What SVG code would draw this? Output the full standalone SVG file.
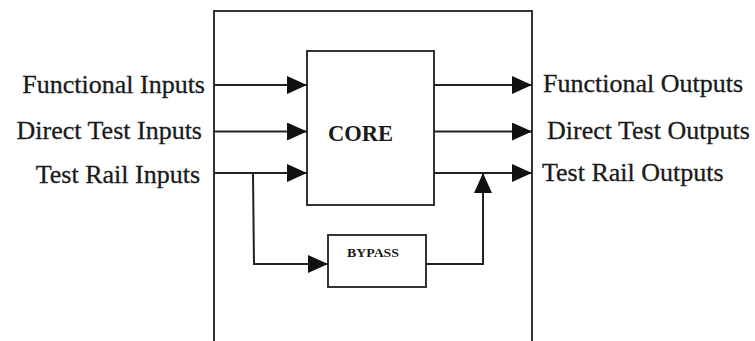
<svg xmlns="http://www.w3.org/2000/svg" width="755" height="341" viewBox="0 0 755 341">
<defs>
<marker id="ah" markerWidth="20" markerHeight="18" refX="20" refY="9" orient="auto" markerUnits="userSpaceOnUse">
<path d="M0,0 L20,9 L0,18 Z" fill="#111"/>
</marker>
<style>
.box{fill:#fff;stroke:#333;stroke-width:2}
.ln{fill:none;stroke:#222;stroke-width:2}
.lbl{font-family:"Liberation Serif","Times New Roman",serif;font-size:26px;fill:#1a1a1a;stroke:#1a1a1a;stroke-width:0.3}
.bold{font-family:"Liberation Serif","Times New Roman",serif;font-weight:bold;fill:#1a1a1a}
</style>
</defs>
<rect width="755" height="341" fill="#fff"/>
<g id="outer"><rect class="box" x="214" y="11" width="318" height="340"/></g>
<g id="core"><rect class="box" x="307" y="51" width="127" height="154"/>
<text class="bold" x="360.5" y="141" text-anchor="middle" font-size="22.5">CORE</text></g>
<g id="bypass"><rect class="box" x="328" y="235" width="98" height="52"/>
<text class="bold" x="347" y="257" font-size="12" textLength="52" lengthAdjust="spacingAndGlyphs">BYPASS</text></g>
<g id="labels">
<text class="lbl" x="205" y="93" text-anchor="end">Functional Inputs</text>
<text class="lbl" x="202" y="139" text-anchor="end">Direct Test Inputs</text>
<text class="lbl" x="200" y="183" text-anchor="end">Test Rail Inputs</text>
<text class="lbl" x="543" y="92">Functional Outputs</text>
<text class="lbl" x="547" y="139">Direct Test Outputs</text>
<text class="lbl" x="542" y="181">Test Rail Outputs</text>
</g>
<g id="connectors">
<line class="ln" x1="214" y1="85" x2="307" y2="85" marker-end="url(#ah)"/>
<line class="ln" x1="214" y1="131.5" x2="307" y2="131.5" marker-end="url(#ah)"/>
<line class="ln" x1="214" y1="173" x2="307" y2="173" marker-end="url(#ah)"/>
<line class="ln" x1="434" y1="85" x2="532" y2="85" marker-end="url(#ah)"/>
<line class="ln" x1="434" y1="131.5" x2="532" y2="131.5" marker-end="url(#ah)"/>
<line class="ln" x1="434" y1="173" x2="532" y2="173" marker-end="url(#ah)"/>
<polyline class="ln" points="253,173 254,264 328,264" marker-end="url(#ah)"/>
<polyline class="ln" points="426,264 483,264 483,173" marker-end="url(#ah)"/>
</g>
</svg>
